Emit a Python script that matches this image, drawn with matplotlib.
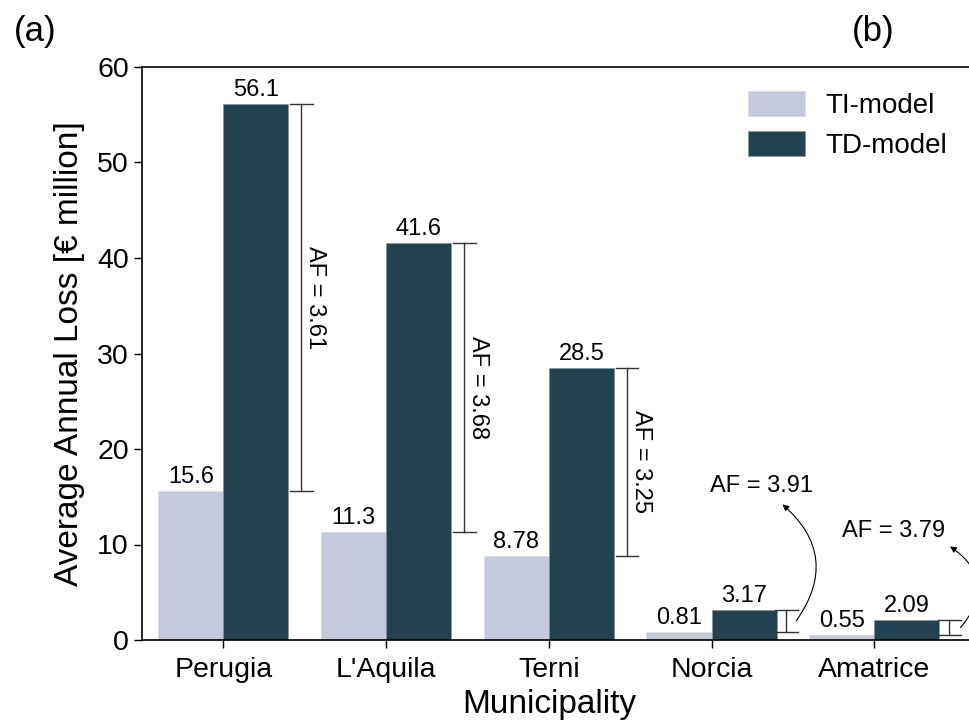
import numpy as np
import matplotlib
matplotlib.use('Agg')
import matplotlib.pyplot as plt

plt.rcParams['font.family'] = ['Liberation Sans', 'DejaVu Sans']

# データ
municipalities = ['Perugia', "L'Aquila", 'Terni', 'Norcia', 'Amatrice']
ti_loss = [15.6, 11.3, 8.78, 0.81, 0.55]
td_loss = [56.1, 41.6, 28.5, 3.17, 2.09]
ti_labels = ['15.6', '11.3', '8.78', '0.81', '0.55']
td_labels = ['56.1', '41.6', '28.5', '3.17', '2.09']
af_values = ['3.61', '3.68', '3.25', '3.91', '3.79']

TI_COLOR = '#c4c9dc'
TD_COLOR = '#23424f'

fig = plt.figure(figsize=(9.7, 7.22), dpi=100)
# 右側はトリミングされた状態を再現
ax = fig.add_axes([142 / 970, 1 - 640 / 722, (1037 - 142) / 970, (640 - 67) / 722])

x = np.arange(len(municipalities))
w = 0.4
ax.bar(x - w / 2, ti_loss, w, color=TI_COLOR, edgecolor='#d8dbe6', linewidth=0.5, label='TI-model')
ax.bar(x + w / 2, td_loss, w, color=TD_COLOR, edgecolor='#7f95a0', linewidth=0.5, label='TD-model')

# 棒上の値
for i in range(len(x)):
    ax.text(x[i] - w / 2, ti_loss[i] + 0.3, ti_labels[i], ha='center', va='bottom', fontsize=17)
    ax.text(x[i] + w / 2, td_loss[i] + 0.3, td_labels[i], ha='center', va='bottom', fontsize=17)

# AF の区間表示
cap = 0.07
for i in range(len(x)):
    bx = x[i] + 0.48 if i < 3 else x[i] + 0.46
    lo, hi = ti_loss[i], td_loss[i]
    ax.plot([bx, bx], [lo, hi], color='#333333', lw=1.0)
    ax.plot([bx - cap, bx + cap], [lo, lo], color='#333333', lw=1.0)
    ax.plot([bx - cap, bx + cap], [hi, hi], color='#333333', lw=1.0)
    if i < 3:
        ax.text(bx + 0.085, (lo + hi) / 2, f'AF = {af_values[i]}', rotation=-90,
                ha='center', va='center', fontsize=17)

# 小さい値は矢印で注記
ax.text(3.31, 16.1, f'AF = {af_values[3]}', ha='center', va='center', fontsize=17)
ax.annotate('', xy=(3.436, 14.2), xytext=(3.52, 2.0),
            arrowprops=dict(arrowstyle='-|>', color='black', lw=0.8, shrinkA=0, shrinkB=0,
                            mutation_scale=9, connectionstyle='arc3,rad=0.45'))
ax.text(4.12, 11.4, f'AF = {af_values[4]}', ha='center', va='center', fontsize=17)
ax.annotate('', xy=(4.466, 9.8), xytext=(4.53, 1.3),
            arrowprops=dict(arrowstyle='-|>', color='black', lw=0.8, shrinkA=0, shrinkB=0,
                            mutation_scale=9, connectionstyle='arc3,rad=0.55'))

ax.set_xlim(-0.5, 5.0)
ax.set_ylim(0, 60)
ax.set_xticks(x)
ax.set_xticklabels(municipalities, fontsize=20.5)
ax.set_yticks(np.arange(0, 61, 10))
ax.tick_params(axis='y', labelsize=20.5, length=6, width=1)
ax.tick_params(axis='x', length=6, width=1, pad=6)
for s in ['left', 'bottom', 'top']:
    ax.spines[s].set_linewidth(1.2)

ax.set_ylabel('Average Annual Loss [€ million]', fontsize=24)
ax.yaxis.set_label_coords(-0.064, 0.5)
ax.set_xlabel('Municipality', fontsize=24)
ax.xaxis.set_label_coords(2.5 / 5.5, -0.085)

leg = ax.legend(loc='upper left', bbox_to_anchor=(723 / 970, 1 - 66 / 722),
                bbox_transform=fig.transFigure, frameon=False, fontsize=20,
                handlelength=2.05, handleheight=1.0, handletextpad=0.75, labelspacing=0.45)

fig.text(14 / 970, 1 - 32 / 722, '(a)', fontsize=25, va='center', ha='left')
fig.text(873 / 970, 1 - 32 / 722, '(b)', fontsize=25, va='center', ha='center')

plt.savefig('out.png', dpi=100)
